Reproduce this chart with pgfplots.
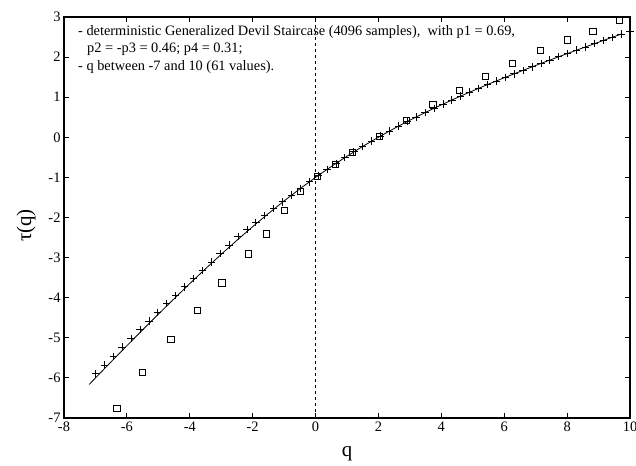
\documentclass[border=0pt]{standalone}
\usepackage{pgfplots}
\pgfplotsset{compat=1.18}
\usepackage{fontspec}
\setmainfont{Liberation Serif}

\begin{document}
\begin{tikzpicture}
\begin{axis}[
    scale only axis,
    width=566bp, height=401bp,
    xmin=-8, xmax=10, ymin=-7, ymax=3,
    xtick={-8,-6,...,10}, ytick={-7,-6,...,3},
    tick align=inside,
    major tick length=5bp,
    axis line style={line width=1.3bp},
    every tick/.style={black, line width=0.8bp},
    tick label style={font=\fontsize{14.5}{14.5}\selectfont},
    /pgf/number format/assume math mode=true,
    xlabel={q}, ylabel={τ(q)},
    label style={font=\fontsize{21}{21}\selectfont},
    xlabel style={at={(axis description cs:0.5,-0.097)}, anchor=base},
    ylabel style={at={(axis description cs:-0.067,0.48)}, anchor=center, rotate=0},
    clip=false,
]
\coordinate (sw) at (rel axis cs:0,0);
\coordinate (ne) at (rel axis cs:1,1);

% q = 0
\addplot[black, line width=0.8bp, dash pattern=on 3bp off 3bp] coordinates {(0,-7) (0,3)};

% theoretical tau(q)
\addplot[black, line width=0.8bp] coordinates {
    (-7.2,-6.164) (-6.5,-5.598) (-6,-5.198) (-5.5,-4.802) (-5,-4.411)
    (-4.5,-4.027) (-4,-3.649) (-3.5,-3.279) (-3,-2.918) (-2.5,-2.568)
    (-2,-2.228) (-1.5,-1.901) (-1,-1.587) (-0.5,-1.286) (0,-1.0)
    (0.5,-0.728) (1,-0.471) (1.5,-0.227) (2.0667,0.033) (2.6333,0.277)
    (3.2,0.507) (3.7667,0.724) (4.3333,0.929) (4.9,1.126) (5.4667,1.314)
    (6.0333,1.495) (6.6,1.670) (7.1667,1.841) (7.7333,2.009) (8.3,2.172)
    (8.8667,2.334) (9.4333,2.494) (9.7167,2.573)
};

% estimate, 61 values of q
\addplot[black, only marks, mark=+, mark size=3.7bp, line width=0.8bp] coordinates {
    (-7.000,-5.90) (-6.717,-5.68) (-6.433,-5.46) (-6.150,-5.23) (-5.867,-5.02)
    (-5.583,-4.79) (-5.300,-4.58) (-5.017,-4.37) (-4.733,-4.15) (-4.450,-3.95)
    (-4.167,-3.73) (-3.883,-3.52) (-3.600,-3.32) (-3.317,-3.11) (-3.033,-2.90)
    (-2.750,-2.69) (-2.467,-2.48) (-2.183,-2.30) (-1.900,-2.12) (-1.617,-1.95)
    (-1.333,-1.78) (-1.050,-1.61) (-0.767,-1.44) (-0.483,-1.27) (-0.200,-1.11)
    (0.083,-0.954) (0.367,-0.799) (0.650,-0.649) (0.933,-0.504) (1.217,-0.363)
    (1.500,-0.227) (1.783,-0.095) (2.067,0.033) (2.350,0.157) (2.633,0.277)
    (2.917,0.394) (3.200,0.507) (3.483,0.617) (3.767,0.724) (4.050,0.828)
    (4.333,0.929) (4.617,1.029) (4.900,1.126) (5.183,1.221) (5.467,1.314)
    (5.750,1.405) (6.033,1.495) (6.317,1.583) (6.600,1.670) (6.883,1.756)
    (7.167,1.841) (7.450,1.925) (7.733,2.009) (8.017,2.091) (8.300,2.172)
    (8.583,2.254) (8.867,2.334) (9.150,2.414) (9.433,2.494) (9.717,2.573)
    (10.000,2.652)
};

% second estimate
\addplot[black, only marks, mark=square, mark size=3.1bp, line width=0.8bp] coordinates {
    (-6.315,-6.76) (-5.50,-5.87) (-4.60,-5.05) (-3.76,-4.31) (-2.976,-3.63)
    (-2.127,-2.91) (-1.564,-2.41) (-0.98,-1.825) (-0.47,-1.34) (0.06,-0.97)
    (0.63,-0.675) (1.17,-0.38) (2.04,0.03) (2.89,0.43) (3.73,0.825)
    (4.58,1.17) (5.41,1.51) (6.26,1.85) (7.15,2.16) (8.0,2.43)
    (8.82,2.65) (9.67,2.91)
};
\end{axis}

\begin{scope}[every node/.style={anchor=base west, inner sep=0pt, font=\fontsize{14.4}{14.4}\selectfont}]
\path (sw|-ne) ++(14bp,-18.5bp) node {- deterministic Generalized Devil Staircase (4096 samples),\ \ with p1 = 0.69,};
\path (sw|-ne) ++(23bp,-36bp) node {p2 = -p3 = 0.46; p4 = 0.31;};
\path (sw|-ne) ++(14bp,-53.5bp) node {- q between -7 and 10 (61 values).};
\end{scope}

\pgfresetboundingbox
\path[use as bounding box] (sw) ++(-64bp,-48bp) rectangle ([xshift=6bp,yshift=17bp]ne);
\end{tikzpicture}
\end{document}
